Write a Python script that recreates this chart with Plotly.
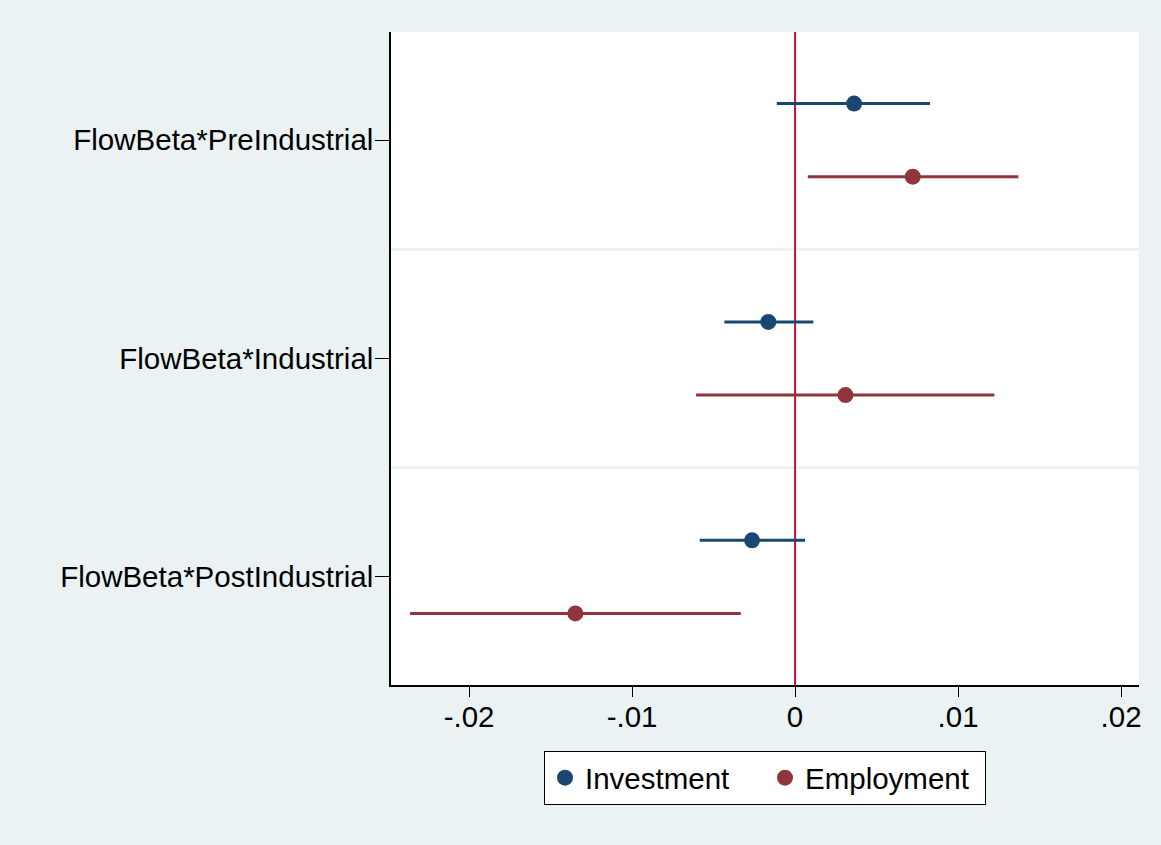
import plotly.graph_objects as go

categories = ["FlowBeta*PreIndustrial", "FlowBeta*Industrial", "FlowBeta*PostIndustrial"]
series_names = ["Investment", "Employment"]

inv_coef = [0.00362, -0.00164, -0.00264]
inv_lo = [-0.00112, -0.00434, -0.00585]
inv_hi = [0.00828, 0.00112, 0.00061]

emp_coef = [0.00722, 0.00309, -0.01348]
emp_lo = [0.00078, -0.00607, -0.02362]
emp_hi = [0.01370, 0.01223, -0.00333]

x_tickvals = [-0.02, -0.01, 0, 0.01, 0.02]
x_ticktext = ["-.02", "-.01", "0", ".01", ".02"]

colors = ["#1A476F", "#90353B"]
FONT = "Liberation Sans, Arial, sans-serif"
FS = 29.5

n = len(categories)
cat_pos = [n - i for i in range(n)]  # top to bottom
offset = 0.1674

fig = go.Figure()
for name, coef, lo, hi, col, off in [
    (series_names[0], inv_coef, inv_lo, inv_hi, colors[0], offset),
    (series_names[1], emp_coef, emp_lo, emp_hi, colors[1], -offset),
]:
    fig.add_trace(go.Scatter(
        x=coef,
        y=[p + off for p in cat_pos],
        mode="markers",
        name=name,
        marker=dict(color=col, size=16, line=dict(width=0)),
        error_x=dict(
            type="data", symmetric=False,
            array=[h - c for h, c in zip(hi, coef)],
            arrayminus=[c - l for c, l in zip(coef, lo)],
            color=col, thickness=3, width=0,
        ),
    ))

shapes = []
for b in [1.5, 2.5]:
    shapes.append(dict(type="line", xref="paper", yref="y", x0=0, x1=1, y0=b, y1=b,
                       line=dict(color="#EAF2F3", width=3), layer="below"))
shapes.append(dict(type="line", xref="x", yref="paper", x0=0, x1=0, y0=0, y1=1,
                   line=dict(color="#C8102E", width=2), layer="below"))

fig.update_layout(
    width=1161, height=845,
    paper_bgcolor="#EAF2F3", plot_bgcolor="white",
    margin=dict(l=391, r=22, t=32, b=160),
    font=dict(family=FONT, size=FS, color="black"),
    shapes=shapes,
    showlegend=True,
    legend=dict(
        orientation="h", x=0.5, xanchor="center", y=-0.101, yanchor="top",
        bgcolor="white", bordercolor="black", borderwidth=1,
        entrywidth=175, entrywidthmode="pixels",
        font=dict(family=FONT, size=FS, color="black"),
    ),
    xaxis=dict(
        range=[-0.02479, 0.0211], tickvals=x_tickvals, ticktext=x_ticktext,
        showgrid=False, zeroline=False, showline=True, linecolor="black", linewidth=1.5,
        ticks="outside", ticklen=10, tickwidth=1.2, tickcolor="black",
        tickfont=dict(size=FS), ticklabelstandoff=-5,
    ),
    yaxis=dict(
        range=[0.505, 3.495], tickvals=cat_pos, ticktext=categories,
        showgrid=False, zeroline=False, showline=True, linecolor="black", linewidth=1.5,
        ticks="outside", ticklen=14, tickwidth=1.2, tickcolor="black",
        tickfont=dict(size=FS), ticklabelstandoff=-4,
    ),
)

fig.write_html(
    "out.html",
    config={"displayModeBar": False},
    post_script="document.body.style.margin='0';document.body.style.padding='0';"
                "document.body.style.overflow='hidden';",
)
